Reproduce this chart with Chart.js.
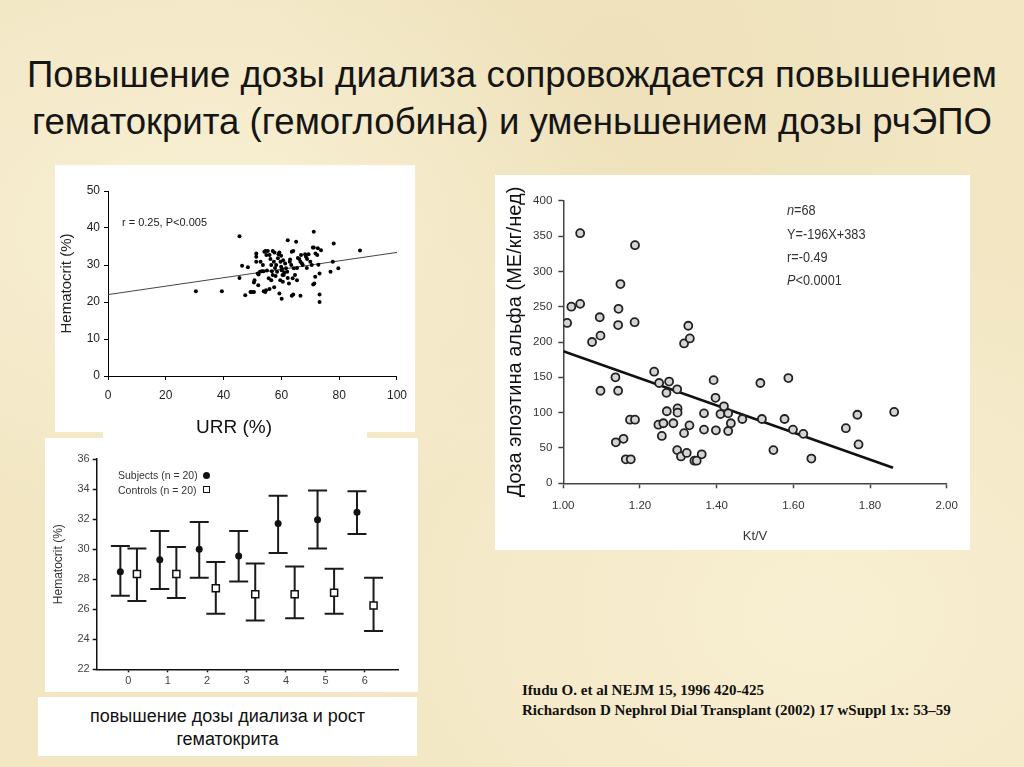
<!DOCTYPE html>
<html>
<head>
<meta charset="utf-8">
<script src="https://cdn.jsdelivr.net/npm/chart.js@4.4.1/dist/chart.umd.min.js"></script>
<style>
html, body { margin: 0; padding: 0; }
body {
  width: 1024px; height: 767px; position: relative; overflow: hidden;
  font-family: "Liberation Sans", Arial, sans-serif;
  background:
    radial-gradient(ellipse at 20% 30%, rgba(255,250,230,0.5), rgba(255,250,230,0) 40%),
    radial-gradient(ellipse at 80% 80%, rgba(255,248,225,0.5), rgba(255,248,225,0) 45%),
    radial-gradient(ellipse at 60% 10%, rgba(230,215,170,0.35), rgba(230,215,170,0) 40%),
    #f2e6c3;
}
.panel { position: absolute; background: #fff; }
.panel canvas { position: absolute; left: 0; top: 0; }
.txt { position: absolute; white-space: nowrap; }
.tline {
  position: absolute; left: 0; width: 1024px; text-align: center; white-space: nowrap;
  font-family: "Liberation Sans", Arial, sans-serif;
  font-size: 37px; line-height: 47px; height: 47px; color: #151515;
}
.tline span { display: inline-block; transform-origin: 50% 50%; }
.note { font-size: 15.5px; line-height: 20px; height: 20px; color: #333; transform: scaleX(0.82); transform-origin: 0 50%; }
.cite { font-family: "Liberation Serif", "Times New Roman", serif; font-weight: bold; font-size: 15px; line-height: 20px; color: #111; }
.dot { position: absolute; width: 7px; height: 7px; border-radius: 50%; background: #111; }
.sq { position: absolute; width: 5px; height: 5px; border: 1.5px solid #111; background: #fff; }
</style>
</head>
<body>

<div class="tline" style="top:51px"><span id="t1">Повышение дозы диализа сопровождается повышением</span></div>
<div class="tline" style="top:98px"><span id="t2">гематокрита (гемоглобина) и уменьшением дозы рчЭПО</span></div>

<!-- top left panel -->
<div class="panel" style="left:55px; top:165px; width:360px; height:267px;">
  <canvas id="c1" width="360" height="267"></canvas>
</div>
<div class="panel" style="left:103px; top:418px; width:264px; height:24px;"></div>
<div class="txt" style="left:134px; top:415px; width:200px; text-align:center; font-size:19px; line-height:24px; color:#111;">URR (%)</div>
<div class="txt" style="left:122px; top:215px; font-size:11px; line-height:14px; color:#222;">r = 0.25, P&lt;0.005</div>

<!-- bottom left panel -->
<div class="panel" style="left:45px; top:438px; width:373px; height:254px;">
  <canvas id="c2" width="373" height="254"></canvas>
</div>
<div class="txt" style="left:118px; top:468px; font-size:10.5px; line-height:14px; color:#333;">Subjects (n = 20)</div>
<div class="dot" style="left:203px; top:471.5px;"></div>
<div class="txt" style="left:118px; top:483px; font-size:10.5px; line-height:14px; color:#333;">Controls (n = 20)</div>
<div class="sq" style="left:202.5px; top:486px;"></div>

<div class="panel" style="left:38px; top:697px; width:379px; height:59px;">
  <div style="text-align:center; font-size:18px; line-height:23px; padding-top:8px; color:#111;">повышение дозы диализа и рост<br>гематокрита</div>
</div>

<!-- right panel -->
<div class="panel" style="left:495px; top:175px; width:475px; height:375px;">
  <canvas id="c3" width="475" height="375"></canvas>
</div>
<div class="txt note" style="left:787px; top:200px;"><i>n</i>=68</div>
<div class="txt note" style="left:787px; top:224px;">Y=-196X+383</div>
<div class="txt note" style="left:787px; top:247px;">r=-0.49</div>
<div class="txt note" style="left:787px; top:270px;"><i>P</i>&lt;0.0001</div>

<div class="txt cite" style="left:522px; top:680px;">Ifudu O. et al NEJM 15, 1996 420-425<br>Richardson D Nephrol Dial Transplant (2002) 17 wSuppl 1x: 53–59</div>

<script>
// URR vs hematocrit (top left)
const urrValues = [30.4, 39.4, 45.5, 45.5, 46.4, 47.5, 48.4, 49.3, 49.8, 50.5,
  50.5, 50.7, 51.3, 51.3, 51.3, 51.8, 52.1, 52.6, 53.2, 53.8,
  54.1, 54.5, 54.8, 54.4, 53.9, 54.7, 53.6, 52.8, 55.3, 55.9,
  56.2, 56.5, 56.7, 57.0, 55.6, 56.5, 55.9, 57.0, 57.6, 57.4,
  57.8, 58.2, 58.5, 58.8, 59.0, 59.3, 59.7, 59.9, 60.1, 60.4,
  59.6, 59.3, 60.1, 60.5, 60.8, 60.6, 59.9, 61.3, 61.6, 62.0,
  62.2, 62.2, 62.6, 62.9, 63.4, 63.6, 64.1, 63.9, 64.3, 63.6,
  64.1, 64.7, 65.1, 65.4, 65.7, 66.2, 66.6, 66.8, 67.1, 67.4,
  66.6, 65.4, 68.2, 68.5, 68.9, 68.8, 69.4, 70.0, 70.5, 70.9,
  71.2, 71.2, 71.7, 71.4, 71.0, 71.8, 72.4, 72.6, 72.8, 73.2,
  73.2, 73.2, 73.7, 77.0, 78.1, 77.8, 79.7, 87.2, 60.2, 61.0,
  58.0, 63.0, 57.5, 52.0, 55.0];
const hctValues = [22.9, 22.9, 37.8, 26.5, 29.8, 21.8, 29.4, 22.7, 22.7, 22.7,
  25.3, 25.9, 33.1, 32.2, 30.9, 27.7, 27.4, 28.2, 28.3, 28.3,
  33.6, 33.8, 32.7, 22.7, 22.9, 23.2, 30.0, 30.9, 33.8, 32.7,
  31.6, 30.0, 28.3, 27.3, 26.4, 25.9, 23.5, 33.8, 33.4, 30.9,
  29.2, 30.0, 28.2, 31.8, 32.9, 33.4, 30.9, 29.5, 28.6, 27.3,
  25.9, 22.3, 20.9, 25.5, 27.3, 31.3, 32.5, 30.4, 29.1, 28.2,
  36.7, 26.5, 25.0, 30.9, 30.0, 33.6, 33.8, 26.4, 29.1, 21.7,
  22.0, 27.3, 36.3, 29.2, 31.9, 31.6, 30.9, 32.7, 30.4, 30.0,
  21.7, 25.9, 32.9, 32.2, 31.6, 29.2, 32.9, 30.9, 30.0, 34.7,
  34.7, 39.0, 26.8, 25.0, 24.7, 33.1, 32.7, 34.5, 30.1, 27.7,
  22.0, 20.0, 34.0, 28.2, 35.8, 30.9, 29.1, 33.9, 29.0, 28.0,
  27.0, 31.5, 24.0, 24.5, 28.5];
const urrFitX = [0, 100];
const urrFitY = [22.0, 33.4];

// hematocrit by period (bottom left)
const periods = [0, 1, 2, 3, 4, 5, 6];
const subjMean = [28.5, 29.3, 30.0, 29.55, 31.7, 31.95, 32.45];
const subjHigh = [30.2, 31.2, 31.8, 31.2, 33.55, 33.9, 33.85];
const subjLow  = [26.9, 27.35, 28.1, 27.85, 29.75, 30.05, 31.0];
const ctrlMean = [28.35, 28.35, 27.4, 27.0, 27.0, 27.1, 26.25];
const ctrlHigh = [30.05, 30.15, 29.15, 29.05, 28.85, 28.7, 28.1];
const ctrlLow  = [26.55, 26.75, 25.7, 25.25, 25.4, 25.7, 24.55];

// Kt/V vs epoetin dose (right)
const ktvValues = [1.010, 1.021, 1.044, 1.044, 1.075, 1.095, 1.097, 1.097, 1.136, 1.137,
  1.143, 1.144, 1.143, 1.149, 1.157, 1.163, 1.176, 1.174, 1.187, 1.187,
  1.186, 1.237, 1.250, 1.248, 1.257, 1.261, 1.269, 1.270, 1.276, 1.287,
  1.297, 1.298, 1.298, 1.297, 1.307, 1.315, 1.315, 1.322, 1.326, 1.330,
  1.329, 1.342, 1.348, 1.361, 1.367, 1.367, 1.392, 1.397, 1.398, 1.410,
  1.419, 1.430, 1.430, 1.437, 1.467, 1.514, 1.518, 1.548, 1.577, 1.587,
  1.599, 1.626, 1.647, 1.737, 1.767, 1.770, 1.863];
const epoValues = [227, 250, 354, 254, 200, 235, 209, 131, 150, 58,
  131, 247, 224, 282, 63, 34, 34, 90, 90, 337,
  228, 158, 142, 83, 67, 85, 128, 102, 144, 85,
  133, 106, 100, 47, 38, 71, 198, 43, 223, 205,
  82, 32, 32, 41, 99, 76, 146, 121, 75, 98,
  109, 99, 74, 85, 91, 142, 91, 47, 91, 149,
  76, 70, 35, 78, 97, 55, 101];
const epoFitX = [1.00, 1.86];
const epoFitY = [187, 22];

Chart.defaults.font.family = '"Liberation Sans", Arial, sans-serif';
Chart.defaults.animation = false;

function pts(xs, ys) { return xs.map((x, i) => ({ x: x, y: ys[i] })); }

function axisLines(color, width, tickLen) {
  return {
    grid: { display: true, drawOnChartArea: false, drawTicks: true, tickLength: tickLen, color: color, tickWidth: width },
    border: { display: true, color: color, width: width }
  };
}

const noPlugins = { legend: { display: false }, tooltip: { enabled: false } };

// error bars drawn from the dataset's high/low arrays
const errorBars = {
  id: 'errorBars',
  beforeDatasetsDraw(chart) {
    const ctx = chart.ctx, xs = chart.scales.x, ys = chart.scales.y;
    chart.data.datasets.forEach(ds => {
      if (!ds.errHigh) return;
      ctx.save();
      ctx.strokeStyle = '#1a1a1a';
      ctx.lineWidth = 2;
      ds.data.forEach((p, i) => {
        const px = xs.getPixelForValue(p.x);
        const top = ys.getPixelForValue(ds.errHigh[i]);
        const bot = ys.getPixelForValue(ds.errLow[i]);
        ctx.beginPath();
        ctx.moveTo(px, top); ctx.lineTo(px, bot);
        ctx.moveTo(px - 9.5, top); ctx.lineTo(px + 9.5, top);
        ctx.moveTo(px - 9.5, bot); ctx.lineTo(px + 9.5, bot);
        ctx.stroke();
      });
      ctx.restore();
    });
  }
};

// chart 1
new Chart(document.getElementById('c1'), {
  type: 'scatter',
  data: {
    datasets: [
      { data: pts(urrValues, hctValues), pointRadius: 2, pointBorderWidth: 0, pointBackgroundColor: '#000' },
      { data: pts(urrFitX, urrFitY), showLine: true, borderColor: '#444', borderWidth: 1, pointRadius: 0 }
    ]
  },
  options: {
    responsive: false,
    layout: { padding: { top: 26, right: 17, left: 0, bottom: 0 } },
    plugins: noPlugins,
    scales: {
      x: Object.assign({
        type: 'linear', min: 0, max: 100,
        ticks: { stepSize: 20, font: { size: 12 }, color: '#222', padding: 8 },
        afterFit: s => { s.height = 56; }
      }, axisLines('#000', 1, 4)),
      y: Object.assign({
        min: 0, max: 50,
        ticks: { stepSize: 10, font: { size: 12 }, color: '#222', padding: 4 },
        title: { display: true, text: 'Hematocrit (%)', font: { size: 15 }, color: '#222', padding: { top: 3, bottom: 0 } },
        afterFit: s => { s.width = 53; }
      }, axisLines('#000', 1, 4))
    }
  }
});

// chart 2
const subjOffset = -0.2, ctrlOffset = 0.22;
new Chart(document.getElementById('c2'), {
  type: 'scatter',
  data: {
    datasets: [
      { data: pts(periods.map(p => p + subjOffset), subjMean), errHigh: subjHigh, errLow: subjLow,
        pointStyle: 'circle', pointRadius: 3.5, pointBorderWidth: 0, pointBackgroundColor: '#111' },
      { data: pts(periods.map(p => p + ctrlOffset), ctrlMean), errHigh: ctrlHigh, errLow: ctrlLow,
        pointStyle: 'rect', pointRadius: 5, pointBorderWidth: 1.5, pointBorderColor: '#111', pointBackgroundColor: '#fff' }
    ]
  },
  options: {
    responsive: false,
    layout: { padding: { top: 21, right: 20, left: 0, bottom: 0 } },
    plugins: noPlugins,
    scales: {
      x: Object.assign({
        type: 'linear', min: -0.8, max: 6.84,
        afterBuildTicks: s => { s.ticks = periods.map(v => ({ value: v })); },
        ticks: { font: { size: 11 }, color: '#444', padding: 2 },
        afterFit: s => { s.height = 22.7; }
      }, axisLines('#111', 1.5, 3)),
      y: Object.assign({
        min: 22, max: 36,
        ticks: { stepSize: 2, font: { size: 11 }, color: '#444', padding: 3 },
        title: { display: true, text: 'Hematocrit (%)', font: { size: 12 }, color: '#333', padding: { top: 6, bottom: 0 } },
        afterFit: s => { s.width = 51.7; }
      }, axisLines('#111', 1.5, 4))
    }
  },
  plugins: [errorBars]
});

// chart 3
new Chart(document.getElementById('c3'), {
  type: 'scatter',
  data: {
    datasets: [
      { data: pts(epoFitX, epoFitY), showLine: true, borderColor: '#111', borderWidth: 2.6, pointRadius: 0, order: 2 },
      { data: pts(ktvValues, epoValues), pointRadius: 4, pointBorderWidth: 1.8, pointBorderColor: '#222',
        pointBackgroundColor: '#d4d4d4', order: 1 }
    ]
  },
  options: {
    responsive: false,
    layout: { padding: { top: 25.7, right: 23.3, left: 0, bottom: 0 } },
    plugins: noPlugins,
    scales: {
      x: Object.assign({
        type: 'linear', min: 1, max: 2,
        ticks: { stepSize: 0.2, font: { size: 11.5 }, color: '#333', padding: 11,
                 callback: v => Number(v).toFixed(2) },
        title: { display: true, text: 'Kt/V', font: { size: 13 }, color: '#333', padding: { top: 0, bottom: 5.5 } },
        afterFit: s => { s.height = 66.7; }
      }, axisLines('#444', 1.5, 5)),
      y: Object.assign({
        min: 0, max: 400,
        ticks: { stepSize: 50, font: { size: 11.5 }, color: '#333', padding: 6 },
        title: { display: true, text: 'Доза эпоэтина альфа (МЕ/кг/нед)', font: { size: 20 }, color: '#111', padding: { top: 8, bottom: 0 } },
        afterFit: s => { s.width = 68.3; }
      }, axisLines('#444', 1.5, 5))
    }
  }
});

// squeeze title lines to the slide width
function fitLine(id, target) {
  const el = document.getElementById(id);
  const w = el.getBoundingClientRect().width;
  el.style.transform = 'scaleX(' + (target / w) + ')';
}
fitLine('t1', 970);
fitLine('t2', 960);
</script>
</body>
</html>
